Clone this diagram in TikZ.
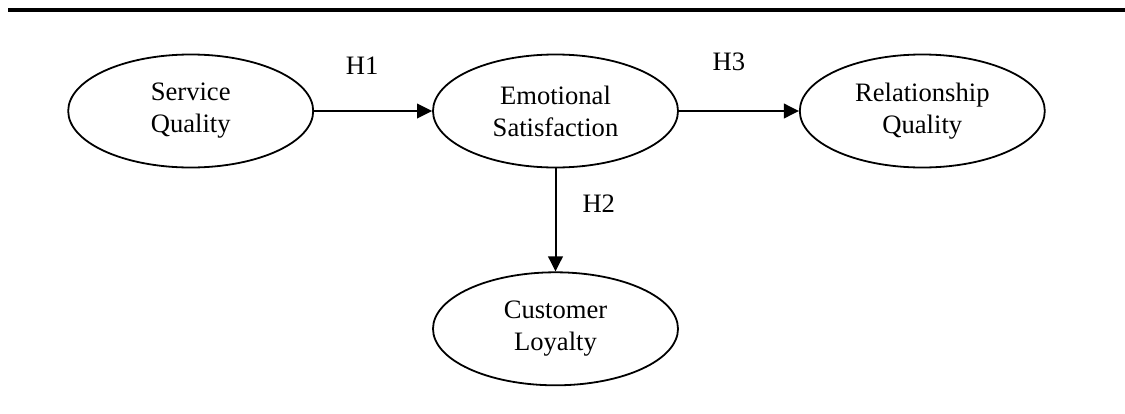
\documentclass[tikz,border=0pt]{standalone}
\usepackage{fontspec}
\setmainfont{Liberation Serif}
\usetikzlibrary{shapes}
\usetikzlibrary{positioning}
\usetikzlibrary{arrows.meta}

\begin{document}
\begin{tikzpicture}[
        construct/.style={draw, ellipse, line width=0.9pt, minimum width=122.5pt, minimum height=56.5pt, inner sep=0pt, align=center, font=\fontsize{13.3}{16}\selectfont},
        hyp/.style={inner sep=0pt, font=\fontsize{13.3}{16}\selectfont},
        path arrow/.style={draw, line width=1pt, arrows={-{Triangle[length=7.5pt, width=7.3pt]}}}]
        \useasboundingbox (0,0) rectangle (562.5pt,-206.5pt);
        \draw[line width=2pt] (4pt,-5pt) -- (562.5pt,-5pt);

        \node[construct] (satisfaction) at (277.75pt,-55.5pt) {Emotional\\Satisfaction};
        \node[construct, left=59pt of satisfaction] (service) {Service\\Quality};
        \node[construct, right=60pt of satisfaction] (relationship) {Relationship\\Quality};
        \node[construct, below=51.5pt of satisfaction] (loyalty) {Customer\\Loyalty};

        \path[path arrow] (service) -- node[hyp, above=18pt, xshift=-5.5pt] (h1) {H1} (satisfaction);
        \path[path arrow] (satisfaction) -- node[hyp, above=19.5pt, xshift=-5pt] (h3) {H3} (relationship);
        \path[path arrow] (satisfaction) -- node[hyp, right=13pt, yshift=8pt] (h2) {H2} (loyalty);
    \end{tikzpicture}
\end{document}
